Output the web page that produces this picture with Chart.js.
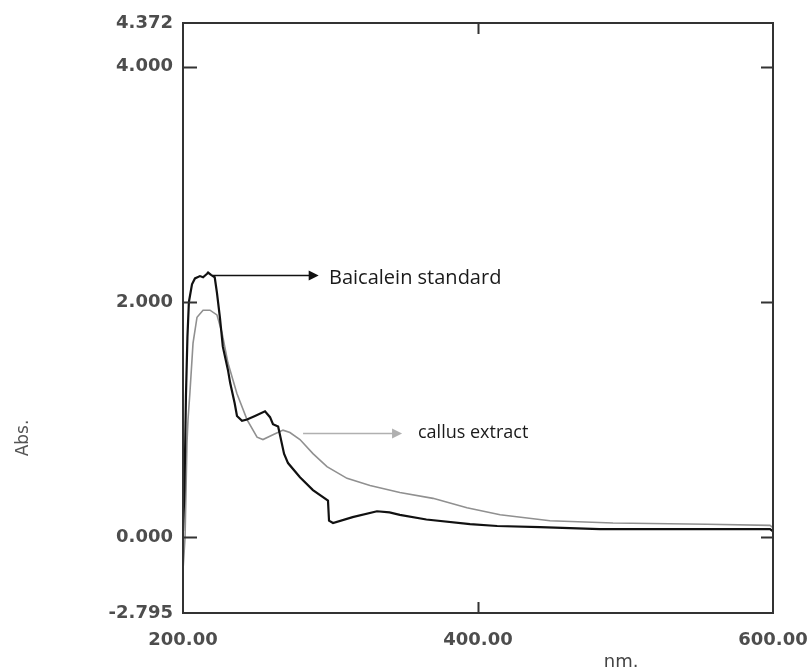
<!DOCTYPE html>
<html>
<head>
<meta charset="utf-8">
<script src="https://cdn.jsdelivr.net/npm/chart.js@4.4.1/dist/chart.umd.min.js"></script>
<style>
  html, body { margin: 0; padding: 0; background: #fff; }
  #wrap { width: 812px; height: 672px; position: relative; }
</style>
</head>
<body>
<div id="wrap"><canvas id="c" width="812" height="672"></canvas></div>
<script>
// ---- data (wavelength nm, absorbance) ----
const baicaleinNm  = [200, 201, 202, 203, 204, 206.1, 208.1, 211.5, 213.6, 216.3, 217, 219, 221.5, 223, 225, 227, 230.5, 232, 235, 236.6, 240, 243.4, 248.8, 255.6, 259, 261, 264.5, 268.5, 271.2, 279.3, 288.1, 298.3, 299, 301.7, 315, 331.5, 340, 347, 365, 394.6, 413, 442, 482.7, 540, 598, 600];
const baicaleinAbs = [0.05, 0.4, 1.2, 1.7, 2.0, 2.15, 2.2, 2.22, 2.21, 2.24, 2.25, 2.23, 2.21, 2.08, 1.87, 1.62, 1.42, 1.31, 1.14, 1.03, 0.99, 1.0, 1.03, 1.07, 1.02, 0.96, 0.94, 0.71, 0.63, 0.51, 0.40, 0.31, 0.14, 0.12, 0.17, 0.22, 0.21, 0.19, 0.15, 0.11, 0.095, 0.085, 0.068, 0.068, 0.068, 0.05];

const callusNm  = [200, 201.4, 202.7, 203.4, 204.7, 206.8, 209.5, 213.6, 218.3, 223, 226.4, 230.5, 236.6, 243.4, 250.2, 254.2, 261, 267.8, 272.5, 279.3, 288.1, 297.6, 311.2, 326.8, 347, 369.5, 392.5, 415, 448.8, 491.5, 555.3, 598, 600];
const callusAbs = [-0.28, 0.0, 0.8, 1.0, 1.23, 1.65, 1.87, 1.93, 1.93, 1.89, 1.74, 1.48, 1.22, 1.0, 0.85, 0.83, 0.87, 0.91, 0.89, 0.83, 0.71, 0.60, 0.50, 0.44, 0.38, 0.33, 0.25, 0.19, 0.14, 0.12, 0.11, 0.10, 0.08];

const xTickValues = [200, 400, 600];
const xTickLabels = ['200.00', '400.00', '600.00'];
const yTickValues = [-0.645, 0, 2, 4, 4.372];
const yTickLabels = ['-2.795', '0.000', '2.000', '4.000', '4.372'];
const seriesNames = ['Baicalein standard', 'callus extract'];
const xTitle = 'nm.';
const yTitle = 'Abs.';

function toPts(xs, ys) { return xs.map((x, i) => ({ x: x, y: ys[i] })); }

const AXIS_COLOR = '#333';

const decor = {
  id: 'decor',
  afterDraw(chart) {
    const ctx = chart.ctx;
    const a = chart.chartArea;
    const xs = chart.scales.x, ys = chart.scales.y;
    ctx.save();
    // frame
    ctx.strokeStyle = AXIS_COLOR;
    ctx.lineWidth = 2;
    ctx.strokeRect(a.left, a.top, a.right - a.left, a.bottom - a.top);
    // inward tick marks
    [0, 2, 4].forEach(v => {
      const y = Math.round(ys.getPixelForValue(v)) + 0.5;
      ctx.beginPath();
      ctx.moveTo(a.left, y); ctx.lineTo(a.left + 14, y);
      ctx.moveTo(a.right, y); ctx.lineTo(a.right - 12, y);
      ctx.stroke();
    });
    const x4 = Math.round(xs.getPixelForValue(400)) + 0.5;
    ctx.beginPath();
    ctx.moveTo(x4, a.top); ctx.lineTo(x4, a.top + 11);
    ctx.moveTo(x4, a.bottom); ctx.lineTo(x4, a.bottom - 11);
    ctx.stroke();

    // arrow helper
    function arrow(x0nm, x1nm, yv, color, lw) {
      const px0 = xs.getPixelForValue(x0nm), px1 = xs.getPixelForValue(x1nm);
      const py = Math.round(ys.getPixelForValue(yv)) + 0.5;
      ctx.strokeStyle = color; ctx.fillStyle = color; ctx.lineWidth = lw;
      ctx.beginPath(); ctx.moveTo(px0, py); ctx.lineTo(px1 - 8, py); ctx.stroke();
      ctx.beginPath();
      ctx.moveTo(px1, py); ctx.lineTo(px1 - 10, py - 5); ctx.lineTo(px1 - 10, py + 5);
      ctx.closePath(); ctx.fill();
    }
    arrow(220.3, 292, 2.23, '#111', 1.5);
    arrow(281.4, 348.5, 0.885, '#b0b0b0', 1.5);

    ctx.textBaseline = 'middle';
    ctx.textAlign = 'left';
    ctx.fillStyle = '#1a1a1a';
    ctx.font = '20px "Open Sans"';
    ctx.fillText(seriesNames[0], xs.getPixelForValue(299), ys.getPixelForValue(2.2));
    ctx.font = '18px "Open Sans"';
    ctx.fillText(seriesNames[1], xs.getPixelForValue(359.3), ys.getPixelForValue(0.89));

    // axis titles
    ctx.fillStyle = '#444';
    ctx.font = '18px "DejaVu Sans"';
    ctx.textAlign = 'center';
    ctx.fillText(xTitle, xs.getPixelForValue(497), 662);
    ctx.save();
    ctx.translate(24, 438);
    ctx.rotate(-Math.PI / 2);
    ctx.fillStyle = '#555';
    ctx.font = '17px "DejaVu Sans"';
    ctx.fillText(yTitle, 0, 0);
    ctx.restore();
    ctx.restore();
  }
};

new Chart(document.getElementById('c'), {
  type: 'line',
  data: {
    datasets: [
      { label: seriesNames[0], data: toPts(baicaleinNm, baicaleinAbs), borderColor: '#111', borderWidth: 2.2, pointRadius: 0, tension: 0, fill: false },
      { label: seriesNames[1], data: toPts(callusNm, callusAbs), borderColor: '#909090', borderWidth: 1.6, pointRadius: 0, tension: 0, fill: false }
    ]
  },
  options: {
    responsive: false,
    animation: false,
    events: [],
    layout: { padding: { top: 23, right: 39, bottom: 0, left: 0 } },
    plugins: { legend: { display: false }, tooltip: { enabled: false }, title: { display: false } },
    scales: {
      x: {
        type: 'linear', min: 200, max: 600,
        grid: { display: false, drawTicks: false },
        border: { display: false },
        afterBuildTicks(s) { s.ticks = xTickValues.map(v => ({ value: v })); },
        afterFit(s) { s.height = 59; s.paddingLeft = 0; s.paddingRight = 0; },
        ticks: {
          padding: 17, color: '#4d4d4d', font: { family: 'DejaVu Sans', size: 18, weight: 'bold' }, maxRotation: 0, autoSkip: false,
          callback(v) { const i = xTickValues.indexOf(v); return i >= 0 ? xTickLabels[i] : ''; }
        }
      },
      y: {
        type: 'linear', min: -0.645, max: 4.372,
        grid: { display: false, drawTicks: false },
        border: { display: false },
        afterBuildTicks(s) { s.ticks = yTickValues.map(v => ({ value: v })); },
        afterFit(s) { s.width = 183; s.paddingTop = 0; s.paddingBottom = 0; },
        ticks: {
          padding: 10, color: '#4d4d4d', font: { family: 'DejaVu Sans', size: 18, weight: 'bold' }, autoSkip: false,
          callback(v) { const i = yTickValues.indexOf(v); return i >= 0 ? yTickLabels[i] : ''; }
        }
      }
    }
  },
  plugins: [decor]
});
</script>
</body>
</html>
